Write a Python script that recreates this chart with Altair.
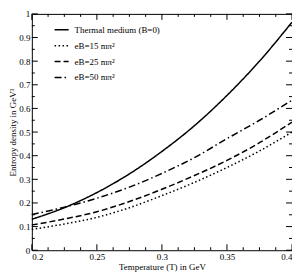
import altair as alt
import pandas as pd

temps = [0.2, 0.225, 0.25, 0.275, 0.3, 0.325, 0.35, 0.375, 0.4]
thermal = [0.131, 0.18, 0.244, 0.323, 0.418, 0.527, 0.655, 0.80, 0.965]
eb15 = [0.088, 0.111, 0.139, 0.18, 0.231, 0.287, 0.35, 0.42, 0.5]
eb25 = [0.107, 0.132, 0.163, 0.206, 0.258, 0.316, 0.38, 0.455, 0.542]
eb50 = [0.151, 0.182, 0.22, 0.267, 0.325, 0.392, 0.472, 0.55, 0.635]
names = ["Thermal medium (B=0)", "eB=15 mπ²", "eB=25 mπ²", "eB=50 mπ²"]
dashes = [[1, 0], [1.5, 2.5], [6, 3], [7, 3, 1.5, 3]]

x_major = [0.2, 0.25, 0.3, 0.35, 0.4]
x_minor = [round(0.2 + 0.0125 * i, 4) for i in range(17)]
y_major = [round(0.1 * i, 1) for i in range(11)]
y_minor = [round(0.05 * i, 2) for i in range(21)]

rows = []
for name, vals in zip(names, [thermal, eb15, eb25, eb50]):
    for t, v in zip(temps, vals):
        rows.append({"T": t, "s": v, "series": name})
df = pd.DataFrame(rows)

W, H = 262, 238
FONT = "Liberation Serif, Times New Roman, serif"

# tick lengths expressed in data units (major ~6px, minor ~3px)
ylen_major, ylen_minor = 6 / H, 3 / H
xlen_major, xlen_minor = 6 / W * 0.2, 3 / W * 0.2

xt_rows = []
for t in x_minor:
    ln = ylen_major if any(abs(t - m) < 1e-9 for m in x_major) else ylen_minor
    xt_rows.append({"T": t, "s": 0.0, "s2": ln})
    xt_rows.append({"T": t, "s": 1.0, "s2": 1.0 - ln})
xt = pd.DataFrame(xt_rows)

yt_rows = []
for v in y_minor:
    ln = xlen_major if any(abs(v - m) < 1e-9 for m in y_major) else xlen_minor
    yt_rows.append({"s": v, "T": 0.2, "T2": 0.2 + ln})
    yt_rows.append({"s": v, "T": 0.4, "T2": 0.4 - ln})
yt = pd.DataFrame(yt_rows)

xs = alt.Scale(domain=[0.2, 0.4], nice=False, zero=False)
ys = alt.Scale(domain=[0, 1], nice=False, zero=False)

xaxis = alt.Axis(values=x_major, format=".2~f", ticks=False, domain=False, grid=False,
                 title="Temperature (T) in GeV", labelPadding=2, titlePadding=1)
yaxis = alt.Axis(values=y_major, format=".1~f", ticks=False, domain=False, grid=False,
                 title="Entropy density in GeV³", labelPadding=2, titlePadding=1)

lines = alt.Chart(df).mark_line(color="black", strokeWidth=1.5, interpolate="monotone").encode(
    x=alt.X("T:Q", scale=xs, axis=xaxis),
    y=alt.Y("s:Q", scale=ys, axis=yaxis),
    strokeDash=alt.StrokeDash("series:N", scale=alt.Scale(domain=names, range=dashes),
                              legend=alt.Legend(title=None, orient="none", legendX=22, legendY=8,
                                                symbolType="stroke", symbolStrokeColor="black",
                                                symbolStrokeWidth=1.5, symbolSize=200,
                                                labelFont=FONT, labelFontSize=9, rowPadding=3,
                                                labelOffset=5)),
    detail="series:N",
)

xticks = alt.Chart(xt).mark_rule(color="black", strokeWidth=1).encode(
    x=alt.X("T:Q", scale=xs, axis=xaxis),
    y=alt.Y("s:Q", scale=ys, axis=yaxis),
    y2="s2:Q",
)

yticks = alt.Chart(yt).mark_rule(color="black", strokeWidth=1).encode(
    y=alt.Y("s:Q", scale=ys, axis=yaxis),
    x=alt.X("T:Q", scale=xs, axis=xaxis),
    x2="T2:Q",
)

chart = alt.layer(lines, xticks, yticks).properties(
    width=W, height=H,
    autosize=alt.AutoSizeParams(type="none"),
    padding={"left": 24, "top": 5, "right": 0, "bottom": 22},
).configure_view(stroke="black", strokeWidth=1).configure_axis(
    labelFont=FONT, titleFont=FONT, labelFontSize=9, titleFontSize=9, titleFontWeight="normal",
    labelColor="black", titleColor="black"
)

chart.save("out.html", embed_options={"renderer": "svg", "actions": False})
